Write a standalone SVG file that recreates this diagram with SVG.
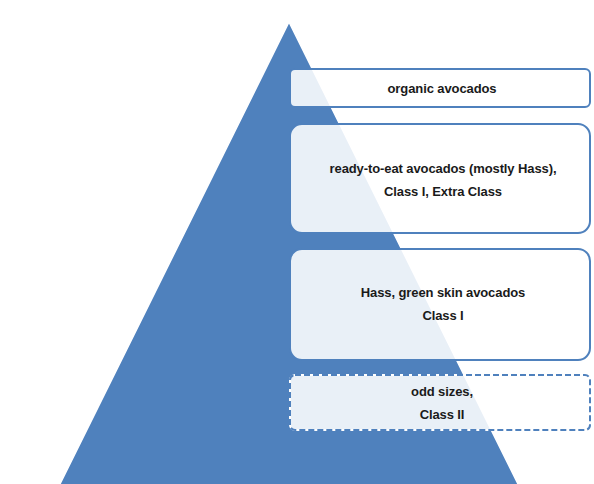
<svg xmlns="http://www.w3.org/2000/svg" width="594" height="484" viewBox="0 0 594 484">
<style>
.box{fill:#ffffff;fill-opacity:0.88;stroke:#4F81BD;stroke-width:2}
.under{fill:none;stroke:#ffffff;stroke-width:2}
.dash{fill:#ffffff;fill-opacity:0.88;stroke:#4F81BD;stroke-width:2;stroke-dasharray:6 3}
.t{font-family:"Liberation Sans",Arial,sans-serif;font-size:13px;font-weight:bold;letter-spacing:-0.1px;fill:#1a1a1a;text-anchor:middle}
</style>
<rect width="594" height="484" fill="#ffffff"/>
<g id="pyramid">
<polygon points="289,22 519,486 59,486" fill="#4F81BD" stroke="#ffffff" stroke-width="1.5"/>
</g>
<g id="tier1">
<rect class="box" x="290" y="69" width="300" height="38" rx="5"/>
<text class="t" x="442" y="93">organic avocados</text>
</g>
<g id="tier2">
<rect class="box" x="290" y="124" width="300" height="109" rx="12"/>
<text class="t" x="443" y="173">ready-to-eat avocados (mostly Hass),</text>
<text class="t" x="443" y="196">Class I, Extra Class</text>
</g>
<g id="tier3">
<rect class="box" x="290" y="249" width="300" height="111" rx="12"/>
<text class="t" x="443" y="297">Hass, green skin avocados</text>
<text class="t" x="443" y="320">Class I</text>
</g>
<g id="tier4">
<rect class="under" x="290" y="375" width="300" height="55" rx="5"/>
<rect class="dash" x="290" y="375" width="300" height="55" rx="5"/>
<text class="t" x="442" y="396">odd sizes,</text>
<text class="t" x="442" y="419">Class II</text>
</g>
</svg>
